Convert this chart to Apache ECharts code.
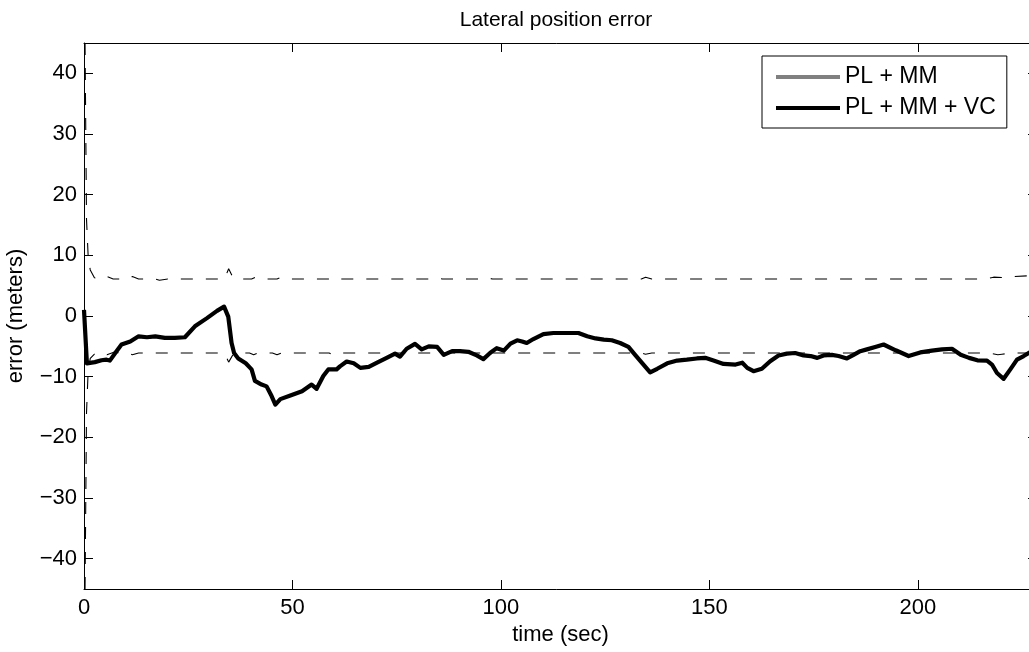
<!DOCTYPE html>
<html>
<head>
<meta charset="utf-8">
<script src="https://cdn.jsdelivr.net/npm/echarts@6/dist/echarts.min.js"></script>
<style>
html,body{margin:0;padding:0;background:#fff;}
#chart{width:1029px;height:652px;}
</style>
</head>
<body>
<div id="chart"></div>
<script>
// ---- data ----
const errT = [0, 0.7, 1.0, 2.6, 4.2, 5.4, 6.2, 7.8, 9.0, 11.1, 13.1, 15.1, 17.1, 19.4, 21.8, 24.2, 26.6, 29.5, 31.9, 33.6,
  34.6, 35.4, 36.0, 37.0, 38.8, 40.2, 41.0, 42.6, 43.8, 45.0, 45.9, 47.1, 49.5, 52.3, 54.6, 55.8, 57.4, 58.6, 60.6, 61.4,
  63.0, 64.7, 66.3, 68.3, 70.3, 72.6, 74.6, 75.8, 77.4, 79.4, 81.0, 82.7, 84.7, 86.3, 88.3, 90.2, 92.2, 94.2, 95.8, 97.4,
  99.0, 100.7, 102.3, 103.9, 105.1, 106.2, 107.8, 110.2, 112.6, 116.6, 118.6, 120.7, 122.7, 124.7, 126.6, 128.6, 130.6, 132.2, 134.2, 135.8,
  137.5, 139.9, 142.3, 144.6, 147.0, 149.0, 151.0, 153.4, 156.3, 157.9, 159.1, 160.6, 162.6, 164.6, 166.6, 168.6, 170.6, 172.6, 174.3, 175.9,
  177.4, 179.4, 181.0, 183.0, 184.6, 186.2, 187.8, 189.8, 191.8, 194.7, 197.8, 200.6, 203.4, 205.8, 208.2, 210.3, 212.3, 214.3, 216.6, 217.8,
  219.0, 220.6, 222.2, 223.8, 225.4, 226.6, 227.2];
const errV = [1.0, -7.8, -7.7, -7.6, -7.3, -7.2, -7.35, -5.8, -4.7, -4.2, -3.35, -3.5, -3.35, -3.6, -3.6, -3.5, -1.7, -0.35, 0.85, 1.55,
  -0.1, -4.45, -6.1, -7.0, -7.8, -8.8, -10.7, -11.3, -11.6, -13.2, -14.6, -13.7, -13.1, -12.4, -11.3, -12.0, -9.9, -8.8, -8.8, -8.3,
  -7.5, -7.8, -8.55, -8.4, -7.7, -6.9, -6.2, -6.7, -5.4, -4.6, -5.5, -5.0, -5.1, -6.4, -5.8, -5.8, -5.9, -6.5, -7.1, -6.1,
  -5.3, -5.7, -4.55, -4.0, -4.2, -4.45, -3.8, -3.0, -2.8, -2.8, -2.8, -3.35, -3.7, -3.9, -4.0, -4.45, -5.1, -6.4, -8.0, -9.3,
  -8.7, -7.8, -7.35, -7.2, -7.0, -6.9, -7.35, -7.9, -8.0, -7.7, -8.55, -9.1, -8.7, -7.45, -6.5, -6.2, -6.1, -6.5, -6.6, -6.9,
  -6.5, -6.4, -6.6, -7.0, -6.4, -5.8, -5.5, -5.1, -4.7, -5.65, -6.6, -6.0, -5.7, -5.5, -5.4, -6.4, -6.9, -7.3, -7.35, -8.0,
  -9.4, -10.35, -8.8, -7.2, -6.6, -6.1, -5.9];

const upperT = [0.25, 0.6, 1.0, 1.5, 2.5, 4.5, 5.5, 7, 10.6, 11.6, 13.1, 17.1, 18.1, 20.1, 33.7, 34.7, 35.7, 36.7, 40.2, 41.2, 42.7,
  46.3, 47.3, 48.8, 58.8, 59.8, 61.3, 83.5, 84.5, 86.0, 95.5, 96.5, 98.0, 133.7, 134.7, 136.2, 216.2, 218.2, 221.2, 223.2, 228.6];
const upperV = [45, 16, 9.8, 7.6, 6.3, 6.1, 6.5, 6.1, 6.1, 6.5, 6.1, 6.1, 5.9, 6.1, 6.1, 7.8, 6.4, 6.1, 6.1, 6.4, 6.1,
  6.1, 6.4, 6.1, 6.1, 6.4, 6.1, 6.1, 6.3, 6.1, 6.1, 6.3, 6.1, 6.1, 6.4, 6.1, 6.1, 6.4, 6.3, 6.5, 6.7];
const lowerT = [0.25, 0.6, 1.0, 1.5, 2.5, 4.5, 5.5, 7, 10.6, 11.6, 13.1, 33.7, 34.7, 35.7, 36.7, 39.7, 40.7, 41.7,
  45.2, 46.3, 47.3, 58.8, 59.8, 61.3, 133.7, 134.7, 136.2, 217.2, 219.2, 220.2, 222.2, 228.6];
const lowerV = [-45, -16, -9.0, -7.0, -6.3, -6.0, -6.4, -6.0, -6.1, -6.4, -6.1, -6.1, -7.6, -6.4, -6.1, -6.1, -6.4, -6.1,
  -6.1, -6.4, -6.1, -6.1, -6.4, -6.1, -6.1, -6.3, -6.1, -6.1, -6.4, -6.3, -6.1, -6.1];

const seriesNames = ['PL + MM', 'PL + MM + VC'];
const titleText = 'Lateral position error';
const xName = 'time (sec)';
const yName = 'error (meters)';

// ---- build ----
const zip = (a, b) => a.map((t, i) => [t, b[i]]);
const FONT = 'Liberation Sans';
const FS = 22;
const minus = v => String(v).replace('-', '\u2212');

const chart = echarts.init(document.getElementById('chart'), null, {renderer: 'canvas'});
const axisCommon = {
  axisLine: {show: true, onZero: false, lineStyle: {color: '#000', width: 1}},
  axisTick: {show: true, inside: true, length: 9, lineStyle: {color: '#000', width: 1}},
  splitLine: {show: false}
};
chart.setOption({
  animation: false,
  backgroundColor: '#fff',
  textStyle: {fontFamily: FONT},
  title: {
    text: titleText, left: 556, top: 10, textAlign: 'center', padding: 0,
    textStyle: {fontFamily: FONT, fontSize: 21, fontWeight: 'normal', color: '#000'}
  },
  grid: {left: 84, right: -8, top: 43, bottom: 63, containLabel: false, outerBoundsMode: 'none'},
  legend: {
    data: seriesNames, orient: 'vertical', left: 762, top: 56,
    padding: [9, 11, 8, 14], itemGap: 7, itemWidth: 64, itemHeight: 4, icon: 'rect',
    backgroundColor: '#fff', borderColor: '#000', borderWidth: 1, borderRadius: 0,
    textStyle: {fontFamily: FONT, fontSize: 23, color: '#000', lineHeight: 24}
  },
  xAxis: [
    Object.assign({}, axisCommon, {
      type: 'value', min: 0, max: 228.6, interval: 50, position: 'bottom',
      name: xName, nameLocation: 'middle', nameGap: 35,
      nameTextStyle: {fontFamily: FONT, fontSize: FS, color: '#000'},
      axisLabel: {show: true, margin: 8, color: '#000', fontFamily: FONT, fontSize: FS, showMaxLabel: false, formatter: minus}
    }),
    Object.assign({}, axisCommon, {
      type: 'value', min: 0, max: 228.6, interval: 50, position: 'top',
      axisLabel: {show: false}
    })
  ],
  yAxis: [
    Object.assign({}, axisCommon, {
      type: 'value', min: -45, max: 45, splitNumber: 9, position: 'left',
      name: yName, nameLocation: 'middle', nameGap: 57,
      nameTextStyle: {fontFamily: FONT, fontSize: FS, color: '#000'},
      axisLabel: {show: true, margin: 7, color: '#000', fontFamily: FONT, fontSize: FS,
        showMinLabel: false, showMaxLabel: false, formatter: minus}
    }),
    Object.assign({}, axisCommon, {
      type: 'value', min: -45, max: 45, splitNumber: 9, position: 'right',
      axisLabel: {show: false}
    })
  ],
  series: [
    {
      name: 'upper', type: 'line', data: zip(upperT, upperV), showSymbol: false, symbol: 'none',
      lineStyle: {color: '#000', width: 1.1, type: [12, 13]}, z: 2, silent: true
    },
    {
      name: 'lower', type: 'line', data: zip(lowerT, lowerV), showSymbol: false, symbol: 'none',
      lineStyle: {color: '#000', width: 1.1, type: [12, 13]}, z: 2, silent: true
    },
    {
      name: seriesNames[0], type: 'line', data: [], showSymbol: false, symbol: 'none',
      itemStyle: {color: '#808080'}, lineStyle: {color: '#808080', width: 4}, z: 3
    },
    {
      name: seriesNames[1], type: 'line', data: zip(errT, errV), showSymbol: false, symbol: 'none',
      itemStyle: {color: '#000'}, lineStyle: {color: '#000', width: 4.2, join: 'round'}, z: 4
    }
  ]
});
</script>
</body>
</html>
